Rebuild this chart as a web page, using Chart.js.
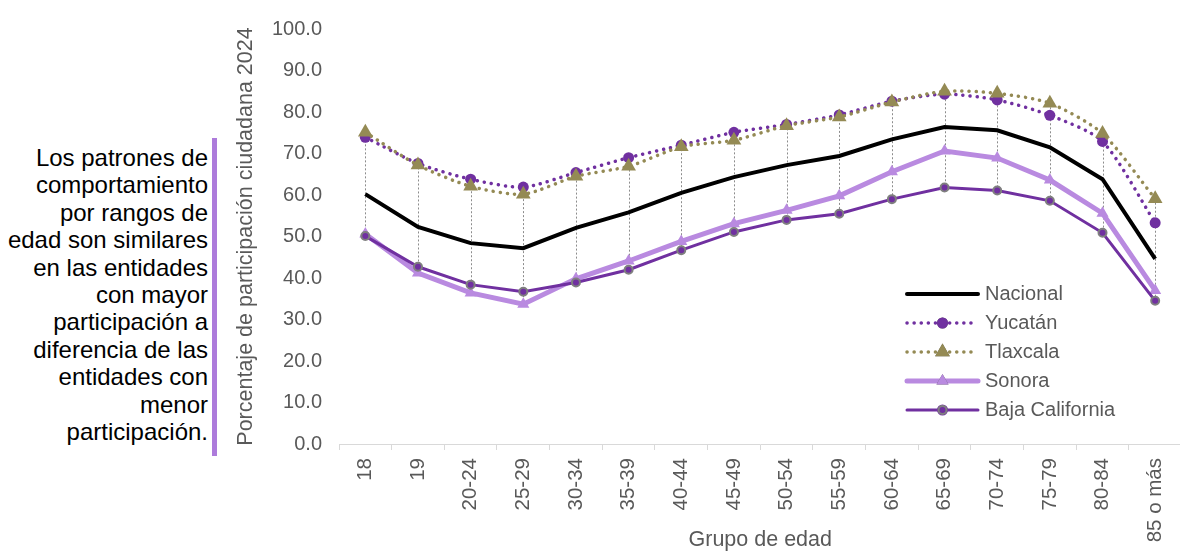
<!DOCTYPE html>
<html>
<head>
<meta charset="utf-8">
<script src="https://cdn.jsdelivr.net/npm/chart.js@4/dist/chart.umd.min.js"></script>
<style>
  html, body { margin: 0; padding: 0; background: #fff; overflow: hidden; width: 1180px; height: 554px; }
  #note {
    position: absolute; left: 0; top: 144px; width: 208px;
    font: 24px "Liberation Sans", Arial, sans-serif; line-height: 27.4px;
    color: #000; text-align: right; white-space: nowrap;
  }
  #bar { position: absolute; left: 212px; top: 138px; width: 5px; height: 318px; background: #ad7bdb; }
  #wrap { position: absolute; left: 0; top: 0; width: 1190px; height: 554px; }
</style>
</head>
<body>
<div id="note">Los patrones de<br>comportamiento<br>por rangos de<br>edad son similares<br>en las entidades<br>con mayor<br>participación a<br>diferencia de las<br>entidades con<br>menor<br>participación.</div>
<div id="bar"></div>
<div id="wrap"><canvas id="chart"></canvas></div>
<script>
// Age groups and participation values (%)
const grupos = ["18", "19", "20-24", "25-29", "30-34", "35-39", "40-44", "45-49", "50-54", "55-59", "60-64", "65-69", "70-74", "75-79", "80-84", "85 o más"];
const nacional = [60.2, 52.3, 48.4, 47.2, 52.1, 55.8, 60.5, 64.3, 67.2, 69.4, 73.4, 76.4, 75.6, 71.5, 63.8, 44.6];
const yucatan = [73.9, 67.6, 63.8, 61.9, 65.4, 69.0, 72.0, 75.1, 77.0, 79.3, 82.6, 84.3, 82.9, 79.2, 72.9, 53.3];
const tlaxcala = [75.1, 67.2, 62.1, 60.2, 64.5, 66.9, 71.6, 73.2, 76.7, 78.8, 82.4, 85.0, 84.5, 82.1, 74.8, 59.1];
const sonora = [50.6, 41.2, 36.4, 33.7, 39.8, 44.1, 48.8, 53.1, 56.3, 59.8, 65.6, 70.6, 68.9, 63.6, 55.6, 37.0];
const bajaCalifornia = [50.1, 42.7, 38.4, 36.7, 38.9, 42.0, 46.7, 51.1, 54.0, 55.5, 59.0, 61.8, 61.1, 58.6, 50.9, 34.5];
const yTicks = [0, 10, 20, 30, 40, 50, 60, 70, 80, 90, 100];

const gray = "#595959";
const FONT = "'Liberation Sans', Arial, sans-serif";

// high-low lines between the highest and lowest series at each age group
const hiLoLines = {
  id: "hiLoLines",
  beforeDatasetsDraw(chart) {
    const { ctx, scales: { x, y } } = chart;
    ctx.save();
    ctx.strokeStyle = "#8c8c8c";
    ctx.lineWidth = 1;
    ctx.setLineDash([2, 2]);
    grupos.forEach((g, i) => {
      const vals = chart.data.datasets.map((d) => d.data[i]);
      const px = Math.round(x.getPixelForValue(i)) + 0.5;
      ctx.beginPath();
      ctx.moveTo(px, y.getPixelForValue(Math.max(...vals)));
      ctx.lineTo(px, y.getPixelForValue(Math.min(...vals)));
      ctx.stroke();
    });
    ctx.restore();
  }
};

// legend drawn inside the plot area (datasets are stored in draw order, legend lists them reversed)
const innerLegend = {
  id: "innerLegend",
  afterDraw(chart) {
    const ctx = chart.ctx;
    const x0 = 907, x1 = 978, tx = 985;
    let yy = 294;
    ctx.save();
    chart.data.datasets.slice().reverse().forEach((ds) => {
      ctx.strokeStyle = ds.borderColor;
      ctx.lineWidth = ds.borderWidth;
      ctx.lineCap = "round";
      ctx.setLineDash(ds.borderDash || []);
      ctx.beginPath();
      ctx.moveTo(x0, yy);
      ctx.lineTo(x1, yy);
      ctx.stroke();
      ctx.setLineDash([]);
      if (ds.pointRadius > 0) {
        Chart.helpers.drawPoint(ctx, {
          pointStyle: ds.pointStyle, radius: ds.pointRadius, borderWidth: ds.pointBorderWidth, rotation: 0
        }, (x0 + x1) / 2, yy);
        ctx.fillStyle = ds.pointBackgroundColor;
        ctx.strokeStyle = ds.pointBorderColor;
        ctx.lineWidth = ds.pointBorderWidth;
        ctx.fill();
        if (ds.pointBorderWidth) ctx.stroke();
      }
      ctx.fillStyle = gray;
      ctx.font = "20px " + FONT;
      ctx.textBaseline = "middle";
      ctx.textAlign = "left";
      ctx.fillText(ds.label, tx, yy);
      yy += 29;
    });
    ctx.restore();
  }
};

new Chart(document.getElementById("chart"), {
  type: "line",
  data: {
    labels: grupos,
    datasets: [
      {
        label: "Nacional", data: nacional,
        borderColor: "#000000", borderWidth: 4, pointRadius: 0, pointHoverRadius: 0,
        tension: 0
      },
      {
        label: "Yucatán", data: yucatan,
        borderColor: "#7030a0", borderWidth: 3.5, borderDash: [0.1, 7], borderCapStyle: "round",
        pointStyle: "circle", pointRadius: 5.5, pointBackgroundColor: "#7030a0", pointBorderColor: "#7030a0",
        pointBorderWidth: 0, tension: 0.25
      },
      {
        label: "Tlaxcala", data: tlaxcala,
        borderColor: "#948a54", borderWidth: 3.5, borderDash: [0.1, 7], borderCapStyle: "round",
        pointStyle: "triangle", pointRadius: 8.5, pointBackgroundColor: "#948a54", pointBorderColor: "#948a54",
        pointBorderWidth: 0, tension: 0.25
      },
      {
        label: "Sonora", data: sonora,
        borderColor: "#b98ae0", borderWidth: 5,
        pointStyle: "triangle", pointRadius: 7, pointBackgroundColor: "#b98ae0", pointBorderColor: "#b98ae0",
        pointBorderWidth: 0, tension: 0
      },
      {
        label: "Baja California", data: bajaCalifornia,
        borderColor: "#7030a0", borderWidth: 3,
        pointStyle: "circle", pointRadius: 4, pointBackgroundColor: "#7030a0", pointBorderColor: "#7f7f7f",
        pointBorderWidth: 2, tension: 0
      }
    ].reverse()
  },
  options: {
    responsive: true,
    maintainAspectRatio: false,
    animation: false,
    events: [],
    layout: { padding: { left: 233, right: 3, top: 0, bottom: 0 } },
    plugins: { legend: { display: false }, tooltip: { enabled: false } },
    scales: {
      x: {
        offset: true,
        grid: { display: true, offset: true, drawOnChartArea: false, drawTicks: true, tickLength: 6, color: "#d9d9d9", lineWidth: 1 },
        border: { display: true, color: "#d9d9d9", width: 1 },
        ticks: { minRotation: 90, maxRotation: 90, autoSkip: false, padding: 8, color: gray, font: { family: FONT, size: 20.5 } },
        title: { display: true, text: "Grupo de edad", color: gray, font: { family: FONT, size: 21.5 }, padding: { top: 0, bottom: 1 } },
        afterFit(scale) { scale.height = 110; }
      },
      y: {
        min: 0, max: 100,
        afterBuildTicks(scale) { scale.ticks = yTicks.map((v) => ({ value: v })); },
        grid: { display: false, drawTicks: false },
        border: { display: false },
        ticks: { padding: 17, color: gray, font: { family: FONT, size: 20 }, callback: (v) => v.toFixed(1) },
        title: { display: true, text: "Porcentaje de participación ciudadana 2024", color: gray, font: { family: FONT, size: 21.5 }, padding: { top: 0, bottom: 0 } },
        afterFit(scale) { scale.width = 106; }
      }
    }
  },
  plugins: [hiLoLines, innerLegend]
});
</script>
</body>
</html>
